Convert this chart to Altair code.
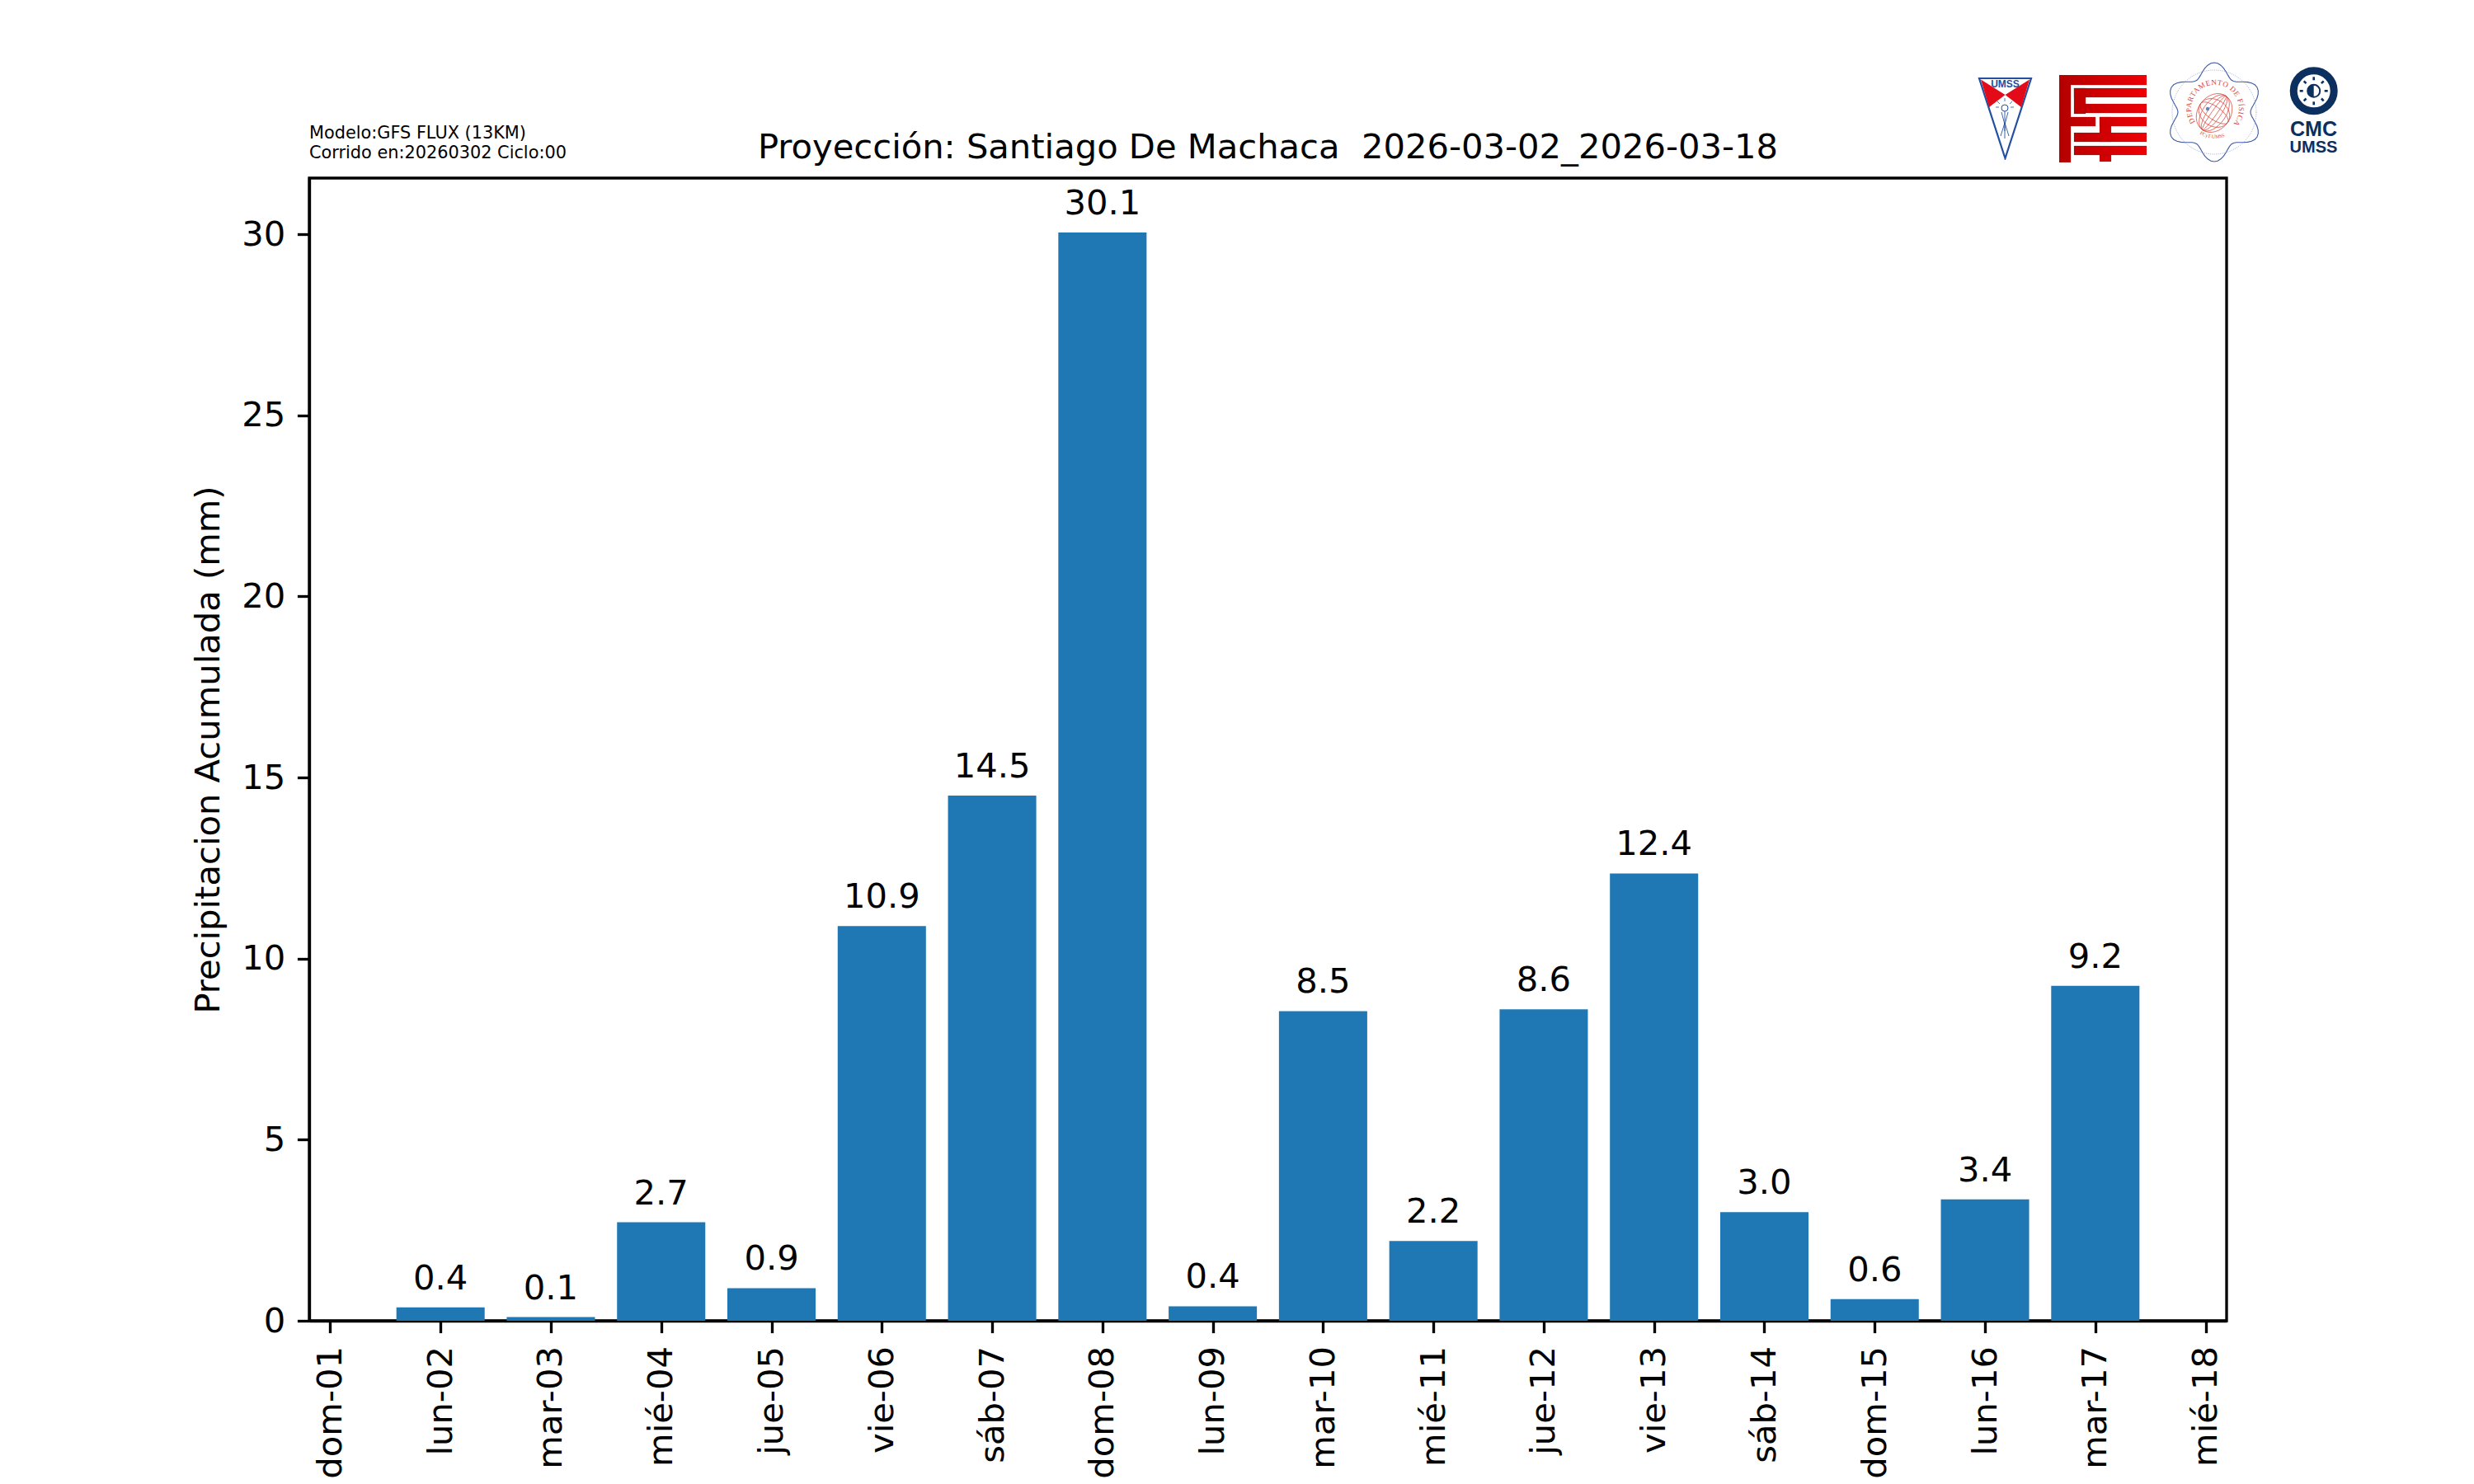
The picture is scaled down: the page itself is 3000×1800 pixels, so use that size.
import base64
import math
import altair as alt
import pandas as pd

# ---- chart values ----
tick_days = list(range(1, 19))
tick_labels = ["dom-01", "lun-02", "mar-03", "mié-04", "jue-05", "vie-06", "sáb-07", "dom-08", "lun-09",
               "mar-10", "mié-11", "jue-12", "vie-13", "sáb-14", "dom-15", "lun-16", "mar-17", "mié-18"]
bar_days = [2, 3, 4, 5, 6, 7, 8, 9, 10, 11, 12, 13, 14, 15, 16, 17]
bar_values = [0.37, 0.1, 2.72, 0.9, 10.9, 14.5, 30.05, 0.4, 8.55, 2.2, 8.6, 12.35, 3.0, 0.6, 3.35, 9.25]
bar_texts = ["0.4", "0.1", "2.7", "0.9", "10.9", "14.5", "30.1", "0.4", "8.5", "2.2", "8.6", "12.4", "3.0", "0.6", "3.4", "9.2"]
y_ticks = [0, 5, 10, 15, 20, 25, 30]
title_text = "Proyección: Santiago De Machaca \u00a02026-03-02_2026-03-18"
y_title = "Precipitacion Acumulada (mm)"
note_lines = ["Modelo:GFS FLUX (13KM)", "Corrido en:20260302 Ciclo:00"]

FONT = "DejaVu Sans"
PX = 300 / 72  # matplotlib points at 300 dpi
LW = 0.8 * PX
W, H = 2325, 1386
OX, OY = 375, 216  # plot origin on the page


def uri(svg):
    return "data:image/svg+xml;base64," + base64.b64encode(svg.encode("utf-8")).decode()


def svg_wrap(w, h, body):
    return f'<svg xmlns="http://www.w3.org/2000/svg" width="{w}" height="{h}" viewBox="0 0 {w} {h}">{body}</svg>'


# --- logos ---
BLUE = "#2450a0"
shield = svg_wrap(67, 101, f'''
<polygon points="2,2 65,2 33.5,99" fill="white" stroke="{BLUE}" stroke-width="2.2" stroke-linejoin="miter"/>
<polygon points="4,3.5 33.5,22 14,37" fill="#e30b17"/>
<polygon points="63,3.5 33.5,22 53,37" fill="#e30b17"/>
<circle cx="33" cy="38" r="4" fill="none" stroke="{BLUE}" stroke-width="1"/>
<path d="M33 42 L33 66 M29 43 L33 58 L37 43 M33 56 L28 72 M33 56 L38 72 M33 56 L33 75" fill="none" stroke="{BLUE}" stroke-width="0.9"/>
<path d="M24 30 L27 33 M42 30 L39 33 M33 26 L33 30 M22 37 L26 37 M44 37 L40 37" stroke="{BLUE}" stroke-width="0.8"/>
''')

fcyt_rects = [
    (0, 0, 106, 12), (0, 0, 14, 106), (18, 16, 88, 11), (18, 16, 14, 31), (32, 35, 74, 11),
    (14, 51, 30, 11), (49, 51, 57, 11), (49, 51, 14, 30), (18, 70, 88, 11), (18, 86, 88, 11), (49, 97, 14, 8),
]
fcyt_body = '<defs><linearGradient id="g"><stop offset="0" stop-color="#b40000"/><stop offset="1" stop-color="#ee0006"/></linearGradient></defs>'
fcyt_path = " ".join(f"M{x} {y}h{w}v{h}h{-w}z" for x, y, w, h in fcyt_rects)
fcyt = svg_wrap(106, 106, fcyt_body + f'<path d="{fcyt_path}" fill="url(#g)" stroke="#7a2020" stroke-width="0.5" stroke-opacity="0.4"/>')

cx, cy = 54.0, 61.0
star_pts = []
for k in range(0, 361, 4):
    t = math.radians(k)
    r = 52 + 8 * math.cos(6 * t)
    star_pts.append(f"{cx + r * math.sin(t):.1f},{cy - r * math.cos(t):.1f}")
ellipses = "".join(
    f'<ellipse cx="54" cy="62" rx="{rx}" ry="25" transform="rotate(35 54 62)" fill="none" stroke="#d9453a" stroke-width="0.7"/>'
    for rx in (20, 14, 8, 3)
) + "".join(
    f'<ellipse cx="54" cy="62" rx="20" ry="{ry}" transform="rotate(35 54 62)" fill="none" stroke="#d9453a" stroke-width="0.7"/>'
    for ry in (16, 8)
)
physics = svg_wrap(110, 122, f'''
<polygon points="{' '.join(star_pts)}" fill="white" stroke="#3f5aa8" stroke-width="1.1"/>
<circle cx="{cx}" cy="{cy}" r="51" fill="none" stroke="#5a70b8" stroke-width="0.6" stroke-dasharray="1 1.4"/>
{ellipses}
<circle cx="46" cy="57" r="2.2" fill="#6a7fc0"/>
<defs><path id="a" d="M 31 73 A 29 29 0 1 1 79 73"/><path id="b" d="M 34 86 A 36 36 0 0 0 76 86"/></defs>
<text font-family="Liberation Serif" font-size="9" fill="#d9453a"><textPath href="#a" textLength="128" lengthAdjust="spacing">DEPARTAMENTO DE FÍSICA</textPath></text>
<text font-family="Liberation Serif" font-size="6" fill="#d9453a"><textPath href="#b" startOffset="6%">FCyT-UMSS</textPath></text>
''')

NAVY = "#0b2f5f"
rays = "".join(
    f'<line x1="{29.7 + 13 * math.cos(math.radians(a)):.1f}" y1="{29.3 + 13 * math.sin(math.radians(a)):.1f}" '
    f'x2="{29.7 + 17 * math.cos(math.radians(a)):.1f}" y2="{29.3 + 17 * math.sin(math.radians(a)):.1f}" '
    f'stroke="{NAVY}" stroke-width="2.6"/>' for a in range(0, 360, 45)
)
cmc = svg_wrap(60, 60, f'''
<circle cx="29.7" cy="29.3" r="24.5" fill="white" stroke="{NAVY}" stroke-width="9"/>
{rays}
<circle cx="29.7" cy="29.3" r="7.5" fill="white" stroke="{NAVY}" stroke-width="2"/>
<path d="M29.7 21.8 A7.5 7.5 0 0 0 29.7 36.8 Z" fill="{NAVY}"/>
''')

logo_urls = [uri(shield), uri(fcyt), uri(physics), uri(cmc)]
logo_x = [2398, 2497, 2631, 2776]
logo_y = [93, 91, 75, 81]
logo_w = [67, 106, 110, 60]
logo_h = [101, 106, 122, 60]

# --- data frames ---
bars = pd.DataFrame({"day": bar_days, "value": bar_values, "text": bar_texts})

x_scale = alt.Scale(domain=[0.81, 18.19], nice=False, zero=False)
y_scale = alt.Scale(domain=[0, 31.55], nice=False)
label_expr = "[" + ",".join(f"'{t}'" for t in tick_labels) + "][datum.value-1]"

x_axis = alt.Axis(values=tick_days, labelExpr=label_expr, labelAngle=270, labelAlign="right", labelBaseline="middle",
                  labelFontSize=10 * PX, labelPadding=16, tickSize=3.5 * PX, tickWidth=LW, tickColor="black",
                  domainColor="black", domainWidth=LW, labelColor="black", title=None, grid=False, labelFont=FONT,
                  labelOverlap=False, labelBound=False, labelFlush=False)
y_axis = alt.Axis(values=y_ticks, labelFontSize=10 * PX, labelPadding=3.5 * PX, tickSize=3.5 * PX, tickWidth=LW,
                  tickColor="black", domainColor="black", domainWidth=LW, labelColor="black", title=y_title,
                  titleFontSize=10 * PX, titleFontWeight="normal", titleColor="black", titleFont=FONT, labelFont=FONT,
                  titlePadding=4 * PX + 2, grid=False, labelOverlap=False, format="d")

bar_layer = alt.Chart(bars).transform_calculate(x0="datum.day-0.4", x1="datum.day+0.4", base="0").mark_bar(
    color="#1f77b4"
).encode(
    x=alt.X("x0:Q", scale=x_scale, axis=x_axis),
    x2="x1:Q",
    y=alt.Y("value:Q", scale=y_scale, axis=y_axis),
    y2="base:Q",
)

text_layer = alt.Chart(bars).mark_text(font=FONT, fontSize=10 * PX, color="black", dy=-22, baseline="alphabetic",
                                       align="center").encode(
    x=alt.X("day:Q", scale=x_scale), y=alt.Y("value:Q", scale=y_scale), text="text:N"
)

title_layer = alt.Chart(pd.DataFrame({"t": [title_text]})).mark_text(
    font=FONT, fontSize=10 * PX, color="black", align="center", baseline="alphabetic").encode(
    x=alt.value(W / 2), y=alt.value(-24.5), text="t:N")

# notes above the plot
note_layers = [
    alt.Chart(pd.DataFrame({"t": [line]})).mark_text(font=FONT, fontSize=5 * PX, color="black", align="left",
                                                     baseline="alphabetic").encode(
        x=alt.value(0), y=alt.value(yy), text="t:N")
    for line, yy in zip(note_lines, [-48, -24])
]

logo_layers = [
    alt.Chart(pd.DataFrame({"u": [u]})).mark_image(align="left", baseline="top", width=w, height=h).encode(
        x=alt.value(x - OX), y=alt.value(y - OY), url="u:N")
    for u, x, y, w, h in zip(logo_urls, logo_x, logo_y, logo_w, logo_h)
]

logo_text = [
    ("UMSS", 2431.5, 105.5, 12, "#1f4e9e"),
    ("CMC", 2805.5, 165, 25, NAVY),
    ("UMSS", 2805.5, 185, 20, NAVY),
]
logo_text_layers = [
    alt.Chart(pd.DataFrame({"t": [t]})).mark_text(font="Liberation Sans", fontWeight="bold", fontSize=s, color=c,
                                                  align="center", baseline="alphabetic").encode(
        x=alt.value(x - OX), y=alt.value(y - OY), text="t:N")
    for t, x, y, s, c in logo_text
]

chart = alt.layer(bar_layer, text_layer, title_layer, *note_layers, *logo_layers, *logo_text_layers).properties(
    width=W, height=H,
    autosize=alt.AutoSizeParams(type="none"),
    padding={"left": OX - 8, "top": OY - 8, "right": 3000 - OX - W - 8, "bottom": 197},
    background="white",
).configure_view(stroke="black", strokeWidth=LW).configure_axis(domainCap="butt", tickCap="butt")

chart.save("out.html", embed_options={"renderer": "svg", "actions": False})
